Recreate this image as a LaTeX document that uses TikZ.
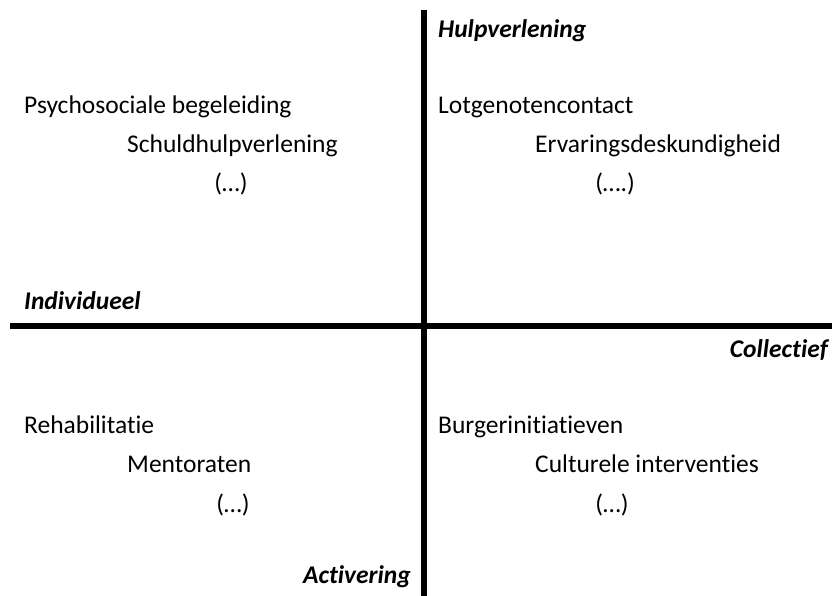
\documentclass[tikz,border=0pt]{standalone}
\usepackage{fontspec}
\setmainfont{Carlito}[Ligatures=NoCommon]
\begin{document}
\begin{tikzpicture}[x=1pt,y=-1pt,
  lbl/.style={inner sep=0pt,font=\fontsize{25.5}{30}\selectfont},
  axl/.style={inner sep=0pt,font=\fontsize{25.5}{30}\selectfont\bfseries\itshape},
  axis/.style={line width=5.5pt}]
\useasboundingbox (0,0) rectangle (832,596);
\coordinate (vt) at (424,10);
\coordinate (vb) at (424,596);
\coordinate (hl) at (10,326);
\coordinate (hr) at (832,326);
\draw[axis] (vt) -- (vb);
\draw[axis] (hl) -- (hr);
\node[axl,anchor=base west] (hulp) at (438,38) {Hulpverlening};
\node[axl,anchor=base west] (ind) at (24,309) {Individueel};
\node[axl,anchor=base east] (col) at (828,357) {Collectief};
\node[axl,anchor=base east] (act) at (411,583) {Activering};
\node[lbl,anchor=base west] (a1) at (24,114) {Psychosociale begeleiding};
\node[lbl,anchor=base west] (a2) at (127,153) {Schuldhulpverlening};
\node[lbl,anchor=base] (a3) at (231,192) {(…)};
\node[lbl,anchor=base west] (b1) at (438,114) {Lotgenotencontact};
\node[lbl,anchor=base west] (b2) at (535,153) {Ervaringsdeskundigheid};
\node[lbl,anchor=base] (b3) at (615,192) {(….)};
\node[lbl,anchor=base west] (c1) at (24,433) {Rehabilitatie};
\node[lbl,anchor=base west] (c2) at (127,472) {Mentoraten};
\node[lbl,anchor=base] (c3) at (233,512) {(…)};
\node[lbl,anchor=base west] (d1) at (438,433) {Burgerinitiatieven};
\node[lbl,anchor=base west] (d2) at (535,472) {Culturele interventies};
\node[lbl,anchor=base] (d3) at (612,512) {(…)};
\end{tikzpicture}
\end{document}
